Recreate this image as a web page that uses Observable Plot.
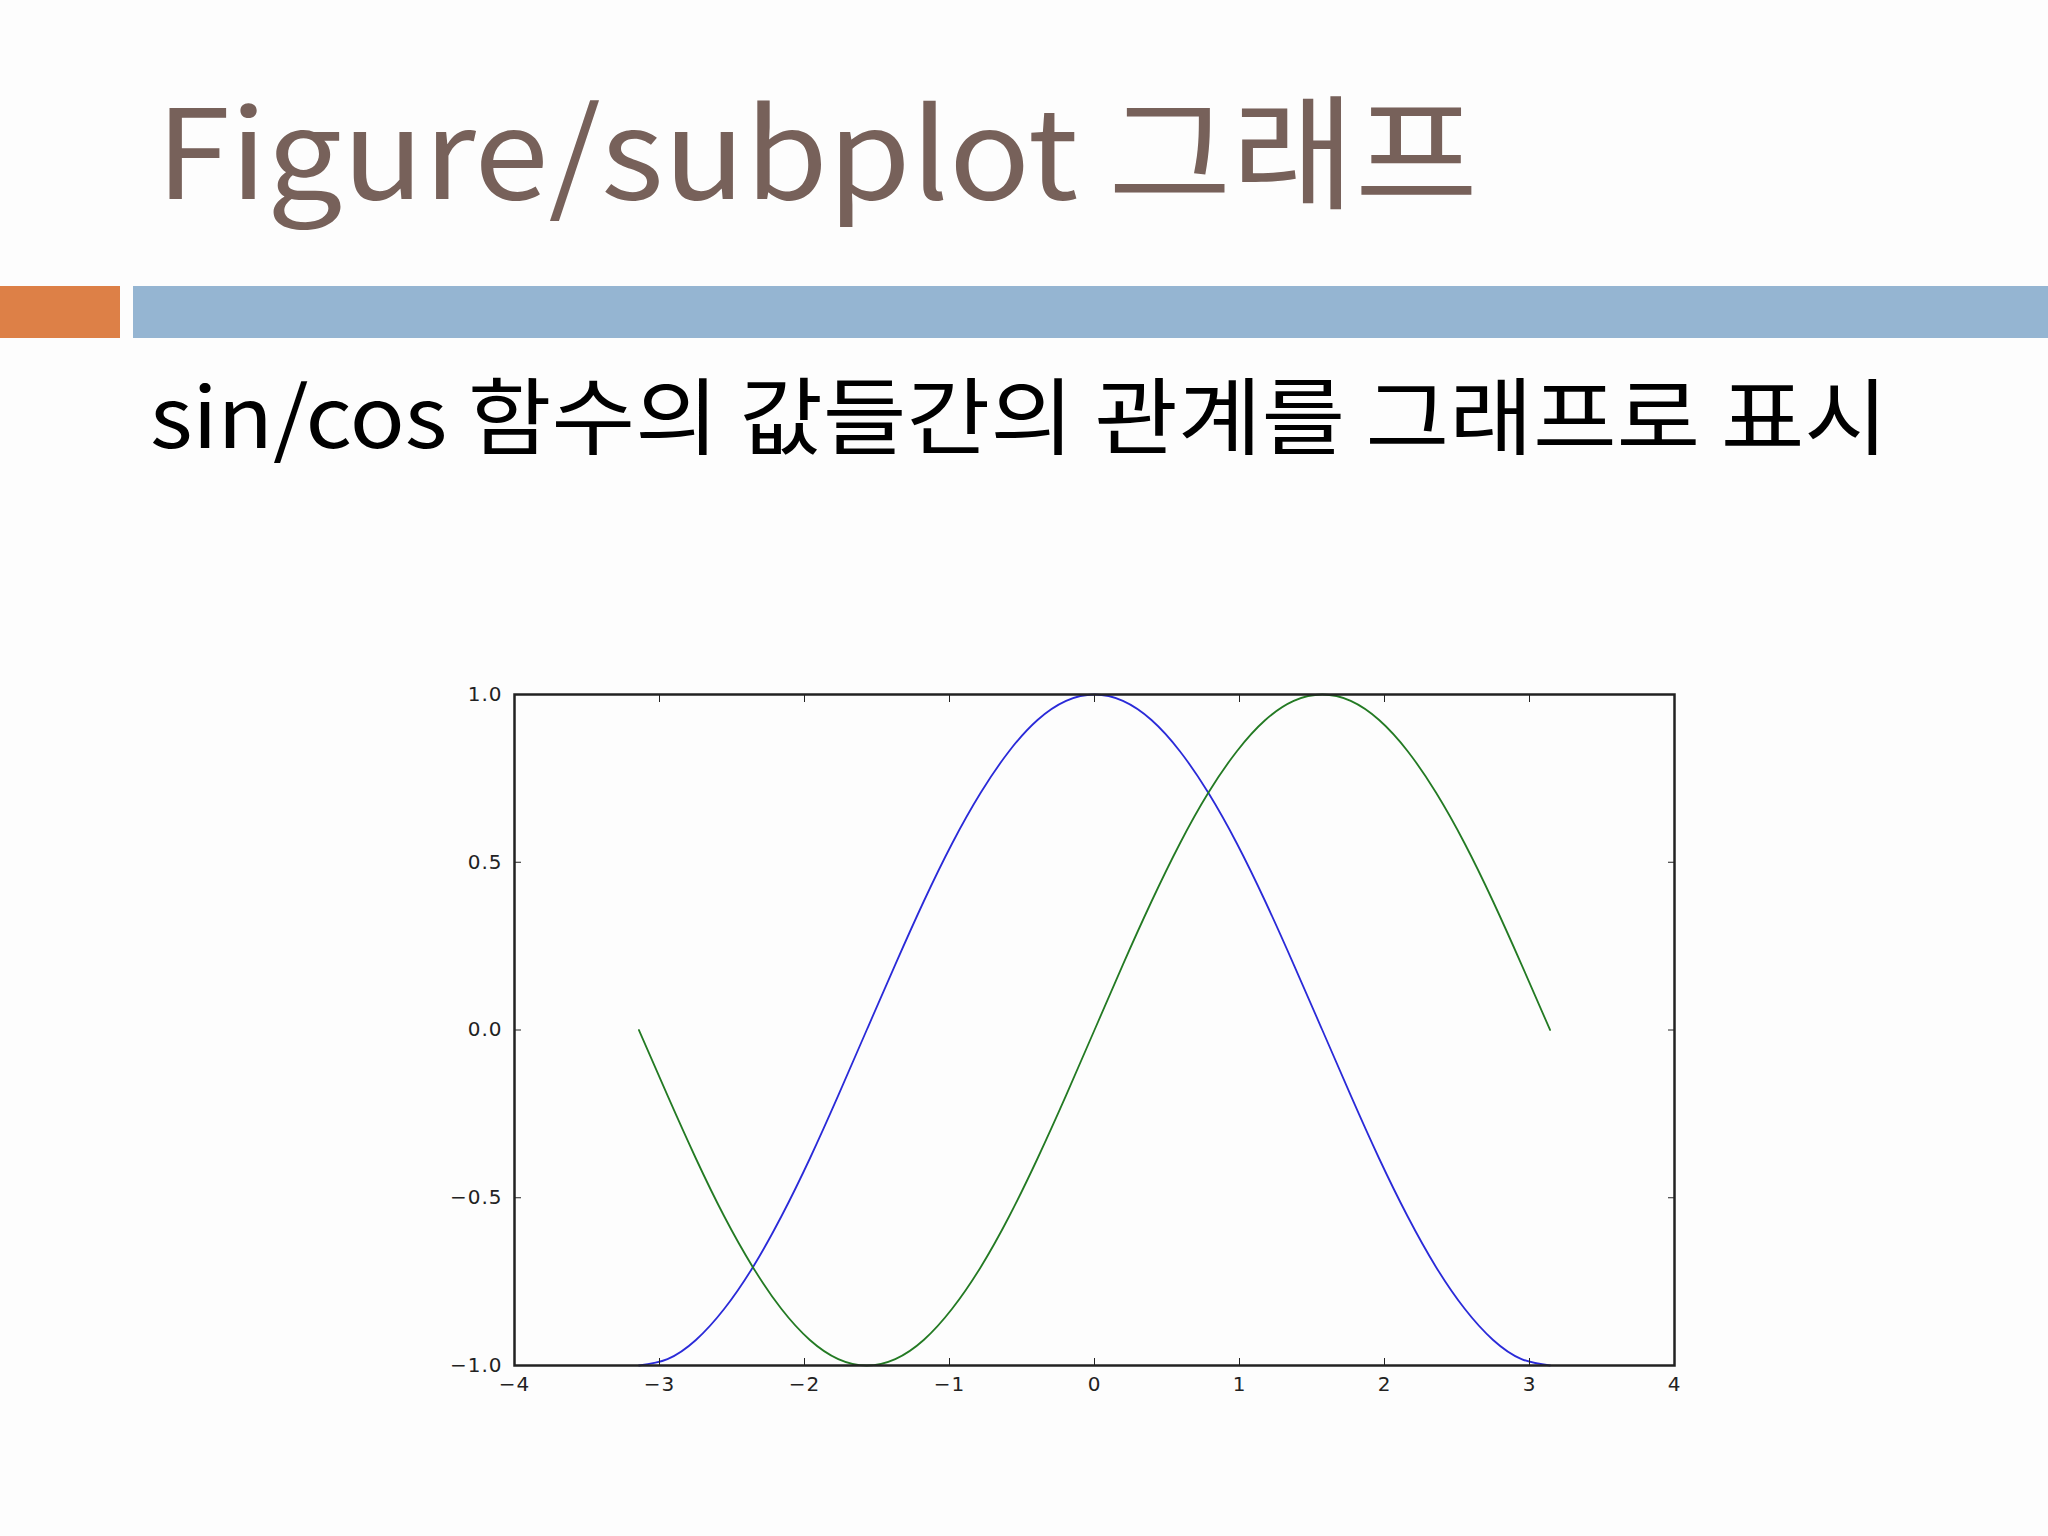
<!DOCTYPE html>
<html>
<head>
<meta charset="utf-8">
<script src="https://cdn.jsdelivr.net/npm/d3@7"></script>
<script src="https://cdn.jsdelivr.net/npm/@observablehq/plot@0.6"></script>
<style>
  html, body { margin: 0; padding: 0; background: #fdfdfd; }
  #page { position: relative; width: 2048px; height: 1536px; overflow: hidden; background: #fdfdfd; }
  .txt { position: absolute; white-space: nowrap; line-height: 1; transform-origin: 0 0; font-family: "Noto Sans CJK KR", "Noto Sans", sans-serif; }
  #title { color: #77615a; font-size: 124px; }
  #subtitle { color: #000; font-size: 84px; }
  .bar { position: absolute; }
  #chart { position: absolute; left: 400px; top: 660px; }
</style>
</head>
<body>
<div id="page">
  <div id="title" class="txt">Figure/subplot 그래프</div>
  <div class="bar" style="left:0;top:286px;width:120px;height:52px;background:#dd8047"></div>
  <div class="bar" style="left:133px;top:286px;width:1915px;height:52px;background:#95b5d2"></div>
  <div id="subtitle" class="txt">sin/cos 함수의 값들간의 관계를 그래프로 표시</div>
  <div id="chart"></div>
</div>
<script>
// Values (x positions and the y of each curve there)
const xs = [-3.142, -2.945, -2.749, -2.553, -2.356, -2.160, -1.963, -1.767, -1.571, -1.374, -1.178, -0.982, -0.785, -0.589, -0.393, -0.196, 0.000,
            0.196, 0.393, 0.589, 0.785, 0.982, 1.178, 1.374, 1.571, 1.767, 1.963, 2.160, 2.356, 2.553, 2.749, 2.945, 3.142];
const cosVals = [-1.000, -0.981, -0.924, -0.831, -0.707, -0.556, -0.383, -0.195, 0.000, 0.195, 0.383, 0.556, 0.707, 0.831, 0.924, 0.981, 1.000,
                 0.981, 0.924, 0.831, 0.707, 0.556, 0.383, 0.195, 0.000, -0.195, -0.383, -0.556, -0.707, -0.831, -0.924, -0.981, -1.000];
const sinVals = [0.000, -0.195, -0.383, -0.556, -0.707, -0.831, -0.924, -0.981, -1.000, -0.981, -0.924, -0.831, -0.707, -0.556, -0.383, -0.195, 0.000,
                 0.195, 0.383, 0.556, 0.707, 0.831, 0.924, 0.981, 1.000, 0.981, 0.924, 0.831, 0.707, 0.556, 0.383, 0.195, 0.000];
const xTicks = [-4, -3, -2, -1, 0, 1, 2, 3, 4];
const xTickLabels = ["−4", "−3", "−2", "−1", "0", "1", "2", "3", "4"];
const yTicks = [1.0, 0.5, 0.0, -0.5, -1.0];
const yTickLabels = ["1.0", "0.5", "0.0", "−0.5", "−1.0"];

const cosData = xs.map((x, i) => ({x, y: cosVals[i]}));
const sinData = xs.map((x, i) => ({x, y: sinVals[i]}));

const xLabel = v => xTickLabels[xTicks.indexOf(v)] ?? "";
const yLabel = v => yTickLabels[yTicks.indexOf(v)] ?? "";

const chart = Plot.plot({
  width: 1294,
  height: 745,
  marginLeft: 114,
  marginRight: 20,
  marginTop: 34,
  marginBottom: 40,
  style: {background: "transparent", fontFamily: "DejaVu Sans, sans-serif", fontSize: "20px", color: "#222", letterSpacing: "1px"},
  x: {domain: [-4, 4]},
  y: {domain: [-1, 1]},
  marks: [
    Plot.line(cosData, {x: "x", y: "y", stroke: "#2a2ad8", strokeWidth: 1.8, curve: "natural"}),
    Plot.line(sinData, {x: "x", y: "y", stroke: "#237a23", strokeWidth: 1.8, curve: "natural"}),
    Plot.axisX(xTicks, {anchor: "bottom", tickSize: -7, tickPadding: 18, tickFormat: xLabel, label: null, fontSize: 20}),
    Plot.axisX(xTicks, {anchor: "top", tickSize: -7, tickFormat: () => "", label: null}),
    Plot.axisY(yTicks, {anchor: "left", tickSize: -7, tickPadding: 19, tickFormat: yLabel, label: null, fontSize: 20}),
    Plot.axisY(yTicks, {anchor: "right", tickSize: -7, tickFormat: () => "", label: null}),
    Plot.frame({stroke: "#222", strokeWidth: 2.5})
  ]
});
document.getElementById("chart").appendChild(chart);

// Position text: fit width and baseline
function place(id, left, baseline, targetWidth) {
  const el = document.getElementById(id);
  const w = el.getBoundingClientRect().width;
  const sx = targetWidth / w;
  el.style.left = left + "px";
  const probe = document.createElement("span");
  probe.style.display = "inline-block";
  probe.style.width = "1px";
  probe.style.height = "0px";
  probe.style.verticalAlign = "baseline";
  el.appendChild(probe);
  el.style.top = "0px";
  const elTop = el.getBoundingClientRect().top;
  const baseOff = probe.getBoundingClientRect().top - elTop;
  el.removeChild(probe);
  el.style.top = (baseline - baseOff) + "px";
  el.style.transform = `scaleX(${sx})`;
}
place("title", 156, 199, 1322);
place("subtitle", 150, 448, 1738);
</script>
</body>
</html>
